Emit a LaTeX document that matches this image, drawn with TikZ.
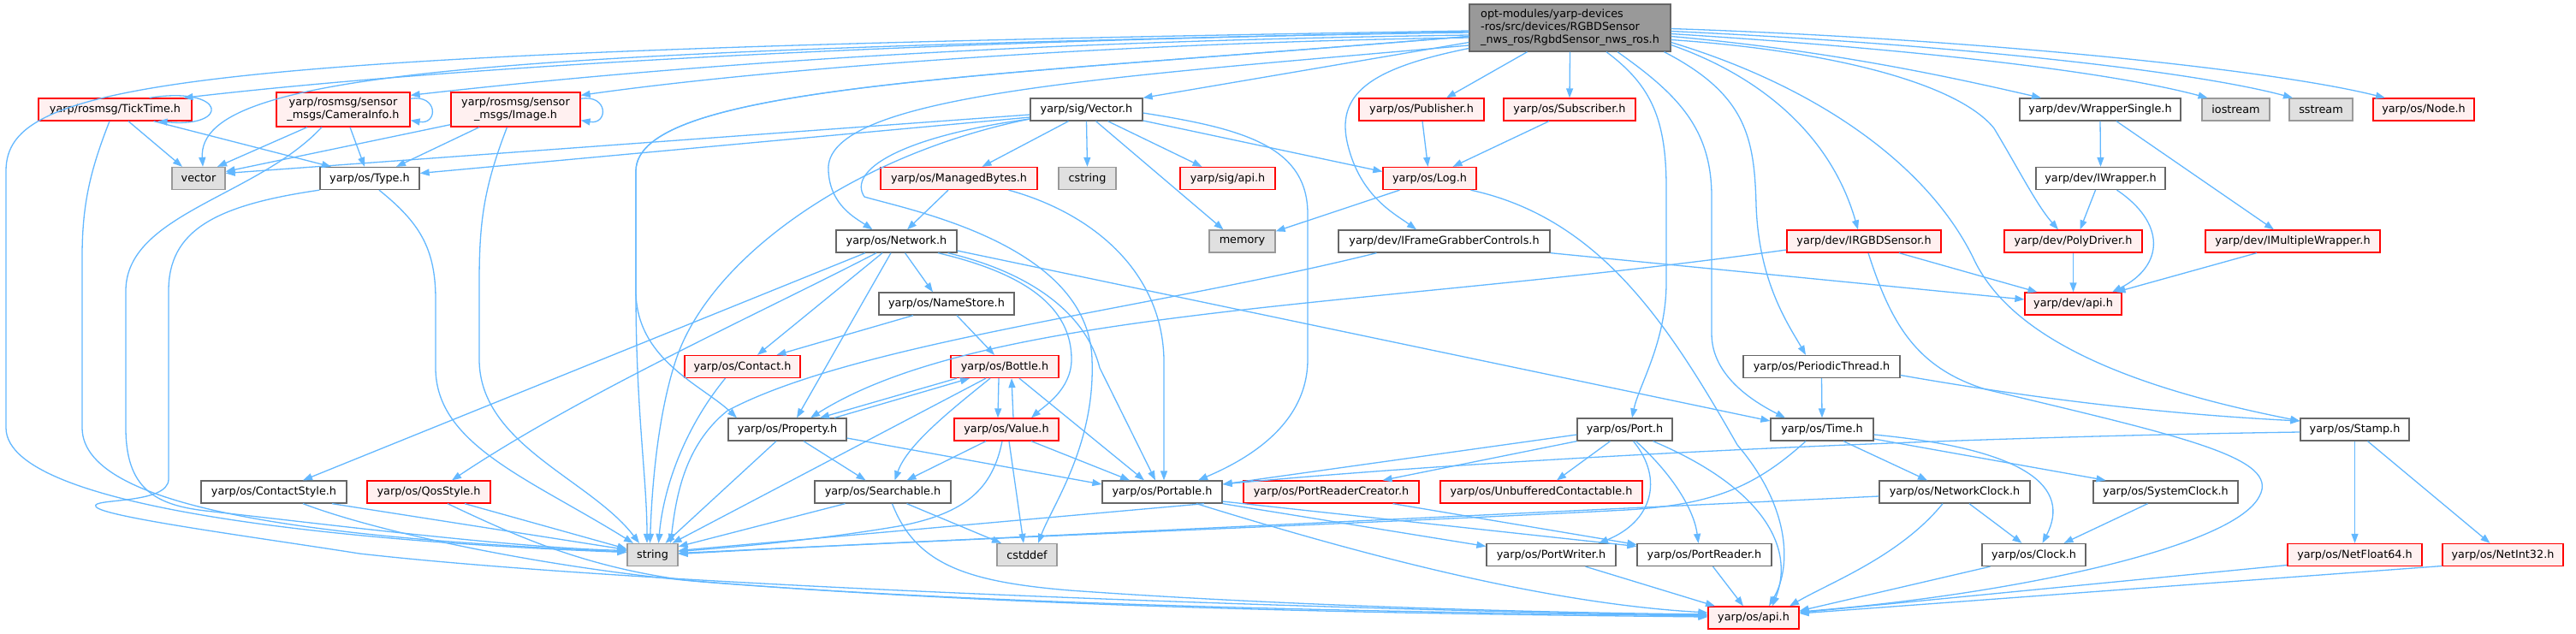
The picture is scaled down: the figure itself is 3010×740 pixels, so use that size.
\documentclass[tikz,border=0pt]{standalone}
\usepackage{fontspec}
\setmainfont{DejaVu Sans}
\usepackage{tikz}
\usetikzlibrary{arrows.meta}
\definecolor{edgeblue}{HTML}{63B8FF}
\definecolor{hdrgray}{HTML}{666666}
\definecolor{hdrred}{HTML}{FF0000}
\definecolor{hdrpink}{HTML}{FFF0F0}
\definecolor{sysgray}{HTML}{999999}
\definecolor{sysfill}{HTML}{E0E0E0}
\definecolor{mainfill}{HTML}{999999}

\begin{document}
\begin{tikzpicture}[x=1pt, y=-1pt,
  hdr/.style={draw=hdrgray, fill=white, line width=1.3pt, inner sep=0pt, minimum height=26pt, align=center, font=\fontsize{12.8}{15}\selectfont},
  redhdr/.style={hdr, draw=hdrred, fill=hdrpink},
  syshdr/.style={hdr, draw=sysgray, fill=sysfill},
  mainhdr/.style={hdr, fill=mainfill, align=left, minimum height=55pt},
  edge/.style={draw=edgeblue, line width=1.3pt, -{Triangle[length=11pt, width=8pt]}}
]
\path[fill=white, use as bounding box] (0,0) rectangle (3010,740);

\node[mainhdr, minimum width=235pt] (main) at (1834.5,32.5) {opt-modules/yarp-devices\\-ros/src/devices/RGBDSensor\\\_nws\_ros/RgbdSensor\_nws\_ros.h};
\node[redhdr, minimum width=179pt] (ticktime) at (134.5,128) {yarp/rosmsg/TickTime.h};
\node[redhdr, minimum width=156pt, minimum height=40pt] (caminfo) at (401,128) {yarp/rosmsg/sensor\\\_msgs/CameraInfo.h};
\node[redhdr, minimum width=151pt, minimum height=40pt] (image) at (602.5,128) {yarp/rosmsg/sensor\\\_msgs/Image.h};
\node[syshdr, minimum width=62pt] (vec) at (232,208.5) {vector};
\node[hdr, minimum width=116pt] (type) at (432,208.5) {yarp/os/Type.h};
\node[hdr, minimum width=131pt] (sigvector) at (1269.5,128) {yarp/sig/Vector.h};
\node[redhdr, minimum width=183pt] (managed) at (1120.5,208.5) {yarp/os/ManagedBytes.h};
\node[syshdr, minimum width=67pt] (cstring) at (1270.5,208.5) {cstring};
\node[redhdr, minimum width=111pt] (sigapi) at (1434.5,208.5) {yarp/sig/api.h};
\node[hdr, minimum width=141pt] (network) at (1047.5,282) {yarp/os/Network.h};
\node[syshdr, minimum width=77pt] (memory) at (1451.5,282) {memory};
\node[hdr, minimum width=158pt] (namestore) at (1106,355) {yarp/os/NameStore.h};
\node[redhdr, minimum width=146pt] (publisher) at (1661,128) {yarp/os/Publisher.h};
\node[redhdr, minimum width=154pt] (subscriber) at (1834,128) {yarp/os/Subscriber.h};
\node[redhdr, minimum width=109pt] (log) at (1670.5,208.5) {yarp/os/Log.h};
\node[hdr, minimum width=247pt] (ifgc) at (1687.5,282) {yarp/dev/IFrameGrabberControls.h};
\node[redhdr, minimum width=180pt] (irgbd) at (2178,282) {yarp/dev/IRGBDSensor.h};
\node[hdr, minimum width=188pt] (wrapsingle) at (2454,128) {yarp/dev/WrapperSingle.h};
\node[syshdr, minimum width=79pt] (iostream) at (2612.5,128) {iostream};
\node[syshdr, minimum width=74pt] (sstream) at (2712,128) {sstream};
\node[redhdr, minimum width=118pt] (osnode) at (2832,128) {yarp/os/Node.h};
\node[hdr, minimum width=151pt] (iwrapper) at (2454.5,208.5) {yarp/dev/IWrapper.h};
\node[redhdr, minimum width=161pt] (polydriver) at (2422.5,282) {yarp/dev/PolyDriver.h};
\node[redhdr, minimum width=204pt] (imultiwrap) at (2679,282) {yarp/dev/IMultipleWrapper.h};
\node[redhdr, minimum width=113pt] (devapi) at (2422.5,355) {yarp/dev/api.h};
\node[redhdr, minimum width=135pt] (contact) at (867.5,428.5) {yarp/os/Contact.h};
\node[redhdr, minimum width=126pt] (bottle) at (1174,428.5) {yarp/os/Bottle.h};
\node[hdr, minimum width=183pt] (periodic) at (2128.5,428.5) {yarp/os/PeriodicThread.h};
\node[hdr, minimum width=138pt] (property) at (920,502) {yarp/os/Property.h};
\node[redhdr, minimum width=122pt] (value) at (1176,502) {yarp/os/Value.h};
\node[hdr, minimum width=111pt] (port) at (1898.5,502) {yarp/os/Port.h};
\node[hdr, minimum width=120pt] (time) at (2129,502) {yarp/os/Time.h};
\node[hdr, minimum width=127pt] (stamp) at (2751.5,502) {yarp/os/Stamp.h};
\node[hdr, minimum width=170pt] (contactstyle) at (320,575) {yarp/os/ContactStyle.h};
\node[redhdr, minimum width=144pt] (qosstyle) at (501,575) {yarp/os/QosStyle.h};
\node[hdr, minimum width=159pt] (searchable) at (1031.5,575) {yarp/os/Searchable.h};
\node[hdr, minimum width=140pt] (portable) at (1358,575) {yarp/os/Portable.h};
\node[redhdr, minimum width=205pt] (prcreator) at (1555.5,575) {yarp/os/PortReaderCreator.h};
\node[redhdr, minimum width=236pt] (unbuffered) at (1801,575) {yarp/os/UnbufferedContactable.h};
\node[hdr, minimum width=176pt] (netclock) at (2284,575) {yarp/os/NetworkClock.h};
\node[hdr, minimum width=169pt] (sysclock) at (2530.5,575) {yarp/os/SystemClock.h};
\node[syshdr, minimum width=59pt] (string) at (762.5,648.5) {string};
\node[syshdr, minimum width=70pt] (cstddef) at (1200,648.5) {cstddef};
\node[hdr, minimum width=151pt] (portwriter) at (1812.5,648.5) {yarp/os/PortWriter.h};
\node[hdr, minimum width=157pt] (portreader) at (1991.5,648.5) {yarp/os/PortReader.h};
\node[hdr, minimum width=121pt] (clock) at (2376.5,648.5) {yarp/os/Clock.h};
\node[redhdr, minimum width=157pt] (netfloat) at (2751.5,648.5) {yarp/os/NetFloat64.h};
\node[redhdr, minimum width=141pt] (netint) at (2924.5,648.5) {yarp/os/NetInt32.h};
\node[redhdr, minimum width=106pt] (osapi) at (2049,722) {yarp/os/api.h};

\draw[edge] ([yshift=-5.5]main.west) .. controls (1200,45) and (600,70) .. ([xshift=80]ticktime.north);
\draw[edge] ([yshift=-8.5]main.west) .. controls (1200,48) and (800,75) .. ([yshift=-4]caminfo.north east);
\draw[edge] ([yshift=-11.5]main.west) .. controls (1300,50) and (900,80) .. ([yshift=-4]image.north east);
\draw[edge] ([yshift=-4.5]main.west) .. controls (600,60) and (230,80) .. ([xshift=5]vec.north);
\draw[edge] ([yshift=-3.5]main.west) .. controls (200,60) and (7,95) .. (7,200) -- (7,500) .. controls (7,600) and (450,635) .. ([yshift=3]string.west);
\draw[edge] ([yshift=-10]main.west) .. controls (1150,90) and (743,100) .. (743,200) -- (743,340) .. controls (743,420) and (820,450) .. ([xshift=-59]property.north);
\draw[edge] ([yshift=-10]main.west) .. controls (1150,90) and (743,100) .. (743,200) -- (743,340) .. controls (743,480) and (756,560) .. ([xshift=-6.5]string.north);
\draw[edge] ([yshift=-17]main.west) -- (sigvector.north east);
\draw[edge] ([yshift=-20.5]main.west) .. controls (1300,90) and (960,110) .. (968,200) .. controls (970,240) and (1000,255) .. ([xshift=-28]network.north);
\draw[edge] ([yshift=-24]main.west) .. controls (1600,80) and (1560,110) .. (1575,170) .. controls (1590,230) and (1630,250) .. ([xshift=-32.5]ifgc.north);
\draw[edge] ([xshift=-50]main.south) -- ([xshift=29]publisher.north);
\draw[edge] (main.south) -- (subscriber.north);
\draw[edge] ([xshift=42.5]main.south) .. controls (1930,100) and (1947,140) .. (1947,220) -- (1947,330) .. controls (1947,400) and (1915,450) .. ([xshift=8.5]port.north);
\draw[edge] ([xshift=55.5]main.south) .. controls (1960,110) and (2000,150) .. (2000,230) -- (2000,390) .. controls (2000,440) and (2050,470) .. ([xshift=-43]time.north);
\draw[edge] ([xshift=110]main.south) .. controls (2040,110) and (2050,160) .. (2052,240) .. controls (2055,330) and (2090,380) .. ([xshift=-18.5]periodic.north);
\draw[edge] ([yshift=-20]main.east) .. controls (2060,90) and (2140,160) .. ([xshift=-7]irgbd.north);
\draw[edge] ([yshift=-17]main.east) .. controls (2120,100) and (2250,190) .. (2305,300) .. controls (2350,400) and (2500,455) .. ([yshift=10]stamp.west);
\draw[edge] ([yshift=-14]main.east) .. controls (2150,60) and (2290,100) .. (2330,150) .. controls (2360,200) and (2380,240) .. ([xshift=-17.5]polydriver.north);
\draw[edge] ([yshift=-10]main.east) .. controls (2150,60) and (2300,95) .. ([xshift=-69]wrapsingle.north);
\draw[edge] ([yshift=-7]main.east) .. controls (2200,55) and (2450,80) .. ([xshift=-33]iostream.north);
\draw[edge] ([yshift=-4]main.east) .. controls (2250,50) and (2550,80) .. ([xshift=-33]sstream.north);
\draw[edge] ([yshift=-1]main.east) .. controls (2300,45) and (2650,80) .. ([xshift=-45]osnode.north);

\draw[edge] ([xshift=40]ticktime.north) .. controls (265,100) and (270,150) .. ([xshift=50]ticktime.south);
\draw[edge] ([xshift=15.5]ticktime.south) -- ([xshift=-19]vec.north);
\draw[edge] ([xshift=45]ticktime.south) -- ([xshift=-45]type.north);
\draw[edge] ([xshift=-6.5]ticktime.south) .. controls (105,200) and (96,240) .. (96,300) -- (96,500) .. controls (96,600) and (400,630) .. ([yshift=3.5]string.west);
\draw[edge] ([yshift=-8]caminfo.north east) .. controls (512,110) and (512,146) .. ([yshift=8]caminfo.south east);
\draw[edge] ([xshift=-42]caminfo.south) -- ([xshift=22]vec.north);
\draw[edge] ([xshift=8]caminfo.south) -- ([xshift=-6]type.north);
\draw[edge] ([xshift=-25]caminfo.south) .. controls (300,230) and (147,250) .. (147,340) -- (147,500) .. controls (147,570) and (180,590) .. (240,597) .. controls (400,615) and (600,640) .. ([yshift=5]string.west);
\draw[edge] ([yshift=-8]image.north east) .. controls (711,110) and (711,146) .. ([yshift=8]image.south east);
\draw[edge] ([yshift=3]image.south west) -- ([yshift=8]vec.east);
\draw[edge] ([xshift=-42.5]image.south) -- ([xshift=31]type.north);
\draw[edge] ([xshift=-10]image.south) .. controls (565,220) and (560,260) .. (560,330) -- (560,420) .. controls (560,520) and (690,560) .. ([xshift=-15.5]string.north);
\draw[edge] ([xshift=11]type.south) .. controls (490,260) and (509,290) .. (509,350) -- (509,430) .. controls (509,520) and (620,560) .. ([xshift=-22.5]string.north);
\draw[edge] (type.south west) .. controls (250,240) and (197,270) .. (197,340) -- (197,560) .. controls (197,590) and (105,582) .. (112,592) .. controls (118,604) and (300,628) .. (420,647) .. controls (800,690) and (1700,716) .. ([yshift=3]osapi.west);

\draw[edge] ([yshift=-6]sigvector.west) -- ([yshift=6]vec.east);
\draw[edge] ([yshift=-9]sigvector.west) -- ([yshift=6]type.east);
\draw[edge] ([yshift=-11]sigvector.west) .. controls (1000,180) and (830,300) .. (790,420) .. controls (770,480) and (762,560) .. ([xshift=-3]string.north);
\draw[edge] ([yshift=-11]sigvector.west) .. controls (1050,160) and (990,200) .. (1010,230) .. controls (1060,245) and (1272,285) .. (1276,420) .. controls (1280,520) and (1230,590) .. ([xshift=13]cstddef.north);
\draw[edge] ([xshift=-21]sigvector.south) -- ([xshift=27]managed.north);
\draw[edge] (sigvector.south) -- (cstring.north);
\draw[edge] ([xshift=25]sigvector.south) -- ([xshift=-30]sigapi.north);
\draw[edge] ([xshift=11]sigvector.south) -- ([xshift=-22]memory.north);
\draw[edge] ([yshift=-13]sigvector.east) -- ([yshift=8]log.west);
\draw[edge] ([yshift=-4]sigvector.east) .. controls (1450,150) and (1528,170) .. (1528,250) -- (1528,420) .. controls (1528,500) and (1450,540) .. ([xshift=42]portable.north);
\draw[edge] ([xshift=-12.5]managed.south) -- ([xshift=12.5]network.north);
\draw[edge] ([xshift=58]managed.south) .. controls (1280,250) and (1358,320) .. (1360,420) -- ([xshift=2]portable.north);

\draw[edge] ([xshift=-16.5]network.south) -- ([xshift=17.5]contact.north);
\draw[edge] ([xshift=-36.5]network.south) -- ([xshift=34]contactstyle.north);
\draw[edge] ([xshift=-23.5]network.south) .. controls (880,370) and (680,460) .. ([xshift=27]qosstyle.north);
\draw[edge] ([xshift=-6.5]network.south) -- ([xshift=11]property.north);
\draw[edge] ([xshift=10]network.south) -- ([xshift=-16]namestore.north);
\draw[edge] ([xshift=48.5]network.south) .. controls (1200,320) and (1252,360) .. (1252,420) .. controls (1252,455) and (1220,475) .. ([xshift=29]value.north);
\draw[edge] ([xshift=60]network.south) .. controls (1210,320) and (1270,370) .. (1285,430) -- ([xshift=-8]portable.north);
\draw[edge] ([yshift=-11]network.east) -- ([yshift=10]time.west);
\draw[edge] ([xshift=-39]namestore.south) -- ([xshift=40]contact.north);
\draw[edge] ([xshift=12]namestore.south) -- ([xshift=-12]bottle.north);
\draw[edge] ([xshift=-20]contact.south) .. controls (800,500) and (775,570) .. ([xshift=7]string.north);

\draw[edge] ([xshift=-56]bottle.south) -- ([xshift=38]property.north);
\draw[edge] ([xshift=55]property.north) -- ([xshift=-41]bottle.south);
\draw[edge] ([xshift=-7]bottle.south) -- ([xshift=-10]value.north);
\draw[edge] ([xshift=8]value.north) -- ([xshift=8]bottle.south);
\draw[edge] ([xshift=-17]bottle.south) .. controls (1110,480) and (1060,520) .. ([xshift=14]searchable.north);
\draw[edge] ([xshift=-22]bottle.south) -- ([xshift=23]string.north);
\draw[edge] ([xshift=17]bottle.south) -- ([xshift=-21]portable.north);
\draw[edge] ([xshift=-24]value.south) -- ([xshift=28]searchable.north);
\draw[edge] ([xshift=3]value.south) -- ([xshift=-4]cstddef.north);
\draw[edge] ([xshift=29]value.south) -- ([xshift=-38]portable.north);
\draw[edge] ([xshift=-5]value.south) .. controls (1160,570) and (1130,600) .. (1050,615) .. controls (950,632) and (850,640) .. ([yshift=4]string.east);
\draw[edge] ([xshift=19]property.south) -- ([xshift=-20]searchable.north);
\draw[edge] ([xshift=-13]property.south) -- ([xshift=15]string.north);
\draw[edge] ([yshift=-10]property.east) -- ([yshift=9]portable.west);
\draw[edge] ([xshift=-44]searchable.south) -- ([yshift=-4]string.north east);
\draw[edge] ([xshift=28]searchable.south) -- ([xshift=-30]cstddef.north);
\draw[edge] ([xshift=11]searchable.south) .. controls (1070,660) and (1130,680) .. (1250,690) .. controls (1500,708) and (1800,716) .. ([yshift=4]osapi.west);
\draw[edge] ([xshift=68]contactstyle.south) -- ([yshift=6]string.west);
\draw[edge] ([xshift=34]contactstyle.south) .. controls (450,625) and (650,665) .. (820,680) .. controls (1200,710) and (1700,716) .. ([yshift=2]osapi.west);
\draw[edge] ([xshift=42]qosstyle.south) -- ([yshift=7]string.west);
\draw[edge] ([xshift=22]qosstyle.south) .. controls (600,625) and (680,662) .. (800,678) .. controls (1200,712) and (1700,718) .. ([yshift=1]osapi.west);

\draw[edge] ([xshift=49]portable.south) -- ([yshift=5]string.east);
\draw[edge] (portable.south east) -- ([yshift=10]portwriter.west);
\draw[edge] ([yshift=-11]portable.east) -- ([yshift=10]portreader.west);
\draw[edge] ([xshift=40]portable.south) .. controls (1580,645) and (1800,705) .. ([yshift=6]osapi.west);
\draw[edge] ([xshift=72]prcreator.south) -- ([yshift=12]portreader.west);
\draw[edge] ([xshift=1]publisher.south) -- ([xshift=-2]log.north);
\draw[edge] ([xshift=-24]subscriber.south) -- ([xshift=27]log.north);
\draw[edge] ([xshift=-35]log.south) -- ([yshift=-2]memory.north east);
\draw[edge] ([xshift=48]log.south) .. controls (1870,255) and (1950,380) .. (2030,520) .. controls (2090,590) and (2095,660) .. ([xshift=18]osapi.north);
\draw[edge] (ifgc.south east) -- ([yshift=5]devapi.west);
\draw[edge] ([xshift=-79]ifgc.south) .. controls (1350,360) and (1000,400) .. (850,480) .. controls (800,520) and (790,580) .. ([xshift=21]string.north);

\draw[edge] ([yshift=-6]port.west) -- ([yshift=9]portable.east);
\draw[edge] (port.south west) -- ([xshift=60]prcreator.north);
\draw[edge] ([xshift=-17]port.south) -- ([xshift=18]unbuffered.north);
\draw[edge] ([xshift=10]port.south) .. controls (1945,560) and (1930,610) .. ([xshift=55.5]portwriter.north);
\draw[edge] ([xshift=13]port.south) .. controls (1960,560) and (1980,600) .. ([xshift=-7]portreader.north);
\draw[edge] ([xshift=33]port.south) .. controls (2060,570) and (2098,640) .. ([xshift=22]osapi.north);
\draw[edge] ([xshift=40]portwriter.south) -- ([xshift=-45]osapi.north);
\draw[edge] ([xshift=10]portreader.south) -- ([xshift=-12]osapi.north);

\draw[edge] (periodic.south) -- (time.north);
\draw[edge] ([yshift=-10]periodic.east) .. controls (2400,470) and (2550,485) .. ([yshift=10]stamp.west);
\draw[edge] ([xshift=25]time.south) -- ([xshift=-32]netclock.north);
\draw[edge] ([yshift=-11]time.east) -- ([xshift=-70]sysclock.north);
\draw[edge] ([yshift=-6]time.east) .. controls (2370,525) and (2420,570) .. ([xshift=10]clock.north);
\draw[edge] ([xshift=-19]time.south) .. controls (2050,570) and (2000,590) .. (1900,596) .. controls (1600,612) and (1100,630) .. ([yshift=1]string.east);
\draw[edge] ([yshift=-5]netclock.west) -- ([yshift=2]string.east);
\draw[edge] ([xshift=17]netclock.south) -- ([xshift=-14]clock.north);
\draw[edge] ([xshift=-14]netclock.south) .. controls (2220,650) and (2140,680) .. ([xshift=42]osapi.north);
\draw[edge] ([xshift=-21]sysclock.south) -- ([xshift=35]clock.north);
\draw[edge] ([xshift=-51]clock.south) -- ([yshift=8]osapi.east);

\draw[edge] ([xshift=5]irgbd.south) .. controls (2210,380) and (2240,430) .. (2320,455) .. controls (2550,510) and (2665,535) .. (2640,580) .. controls (2610,640) and (2350,695) .. ([yshift=7]osapi.east);
\draw[edge] ([xshift=41]irgbd.south) -- ([xshift=-42]devapi.north);
\draw[edge] ([yshift=-10]irgbd.west) .. controls (1600,360) and (1150,360) .. ([xshift=27]property.north);
\draw[edge] ([yshift=-3]stamp.west) .. controls (2200,512) and (1700,540) .. ([yshift=9]portable.east);
\draw[edge] (stamp.south) -- (netfloat.north);
\draw[edge] ([xshift=15]stamp.south) -- ([xshift=-15]netint.north);
\draw[edge] ([yshift=-12]netfloat.west) -- ([yshift=6]osapi.east);
\draw[edge] ([yshift=-13]netint.west) -- ([yshift=5]osapi.east);

\draw[edge] (wrapsingle.south) -- (iwrapper.north);
\draw[edge] ([xshift=19]wrapsingle.south) -- ([xshift=-22]imultiwrap.north);
\draw[edge] ([xshift=-6]iwrapper.south) -- ([xshift=8]polydriver.north);
\draw[edge] ([xshift=19]iwrapper.south) .. controls (2530,260) and (2530,310) .. ([xshift=45.5]devapi.north);
\draw[edge] (polydriver.south) -- (devapi.north);
\draw[edge] ([xshift=-42]imultiwrap.south) -- ([xshift=50]devapi.north);
\end{tikzpicture}
\end{document}
